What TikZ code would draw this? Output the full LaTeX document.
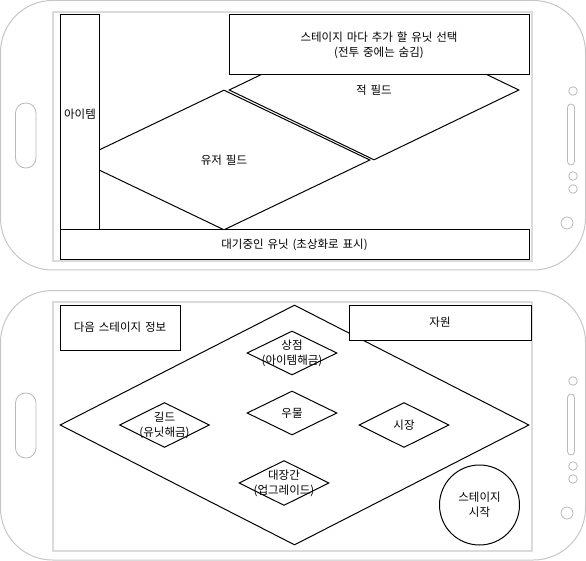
\documentclass[tikz,border=0pt]{standalone}
\usepackage{fontspec}
\newfontfamily\korean[WordSpace=1.5]{Noto Sans CJK KR}
\usetikzlibrary{shapes.geometric}

\begin{document}
\begin{tikzpicture}[x=1pt, y=-1pt,
                          every node/.style={font=\korean\fontsize{11.5}{15}\selectfont, align=center},
                          phone/.style={draw=gray!45, line width=1pt, rounded corners=52pt},
                          screen/.style={draw=gray!28, line width=2pt},
                          button/.style={draw=gray!55, line width=0.8pt},
                          boxnode/.style={rectangle, draw, fill=white, line width=1pt, inner sep=0pt},
                          fieldnode/.style={diamond, draw, line width=1pt, inner sep=0pt},
                          startnode/.style={circle, draw, line width=1pt, minimum size=80pt, inner sep=0pt},
                          textnode/.style={inner sep=0pt},
                      ]
                      \useasboundingbox (0,0) rectangle (586,561);

                      %Phones
                      \foreach \oy in {0,290} {
                          \draw[phone] (0.5,0.5+\oy) rectangle (585.5,270+\oy);
                          \draw[screen] (53,12+\oy) rectangle (532,261+\oy);
                          \draw[button, rounded corners=10pt] (15.5,103+\oy) rectangle (36,168+\oy);
                          \draw[button, rounded corners=3.5pt] (567.5,104+\oy) rectangle (574.5,165+\oy);
                          \draw[button] (573,91+\oy) circle[radius=4.3pt];
                          \draw[button] (573,176+\oy) circle[radius=4.3pt];
                          \draw[button] (573,189+\oy) circle[radius=4.3pt];
                          \draw[button] (567,223+\oy) circle[radius=6pt];
                      }

                      %Nodes (battle screen)
                      \node[fieldnode, minimum width=290pt, minimum height=140pt] (enemy) at (374,90)  {적 필드};
                      \node[fieldnode, minimum width=292pt, minimum height=140pt] (user)  at (224,160) {유저 필드};
                      \node[boxnode, minimum width=39pt, minimum height=215pt]   (item)  at (79.5,122.5) {};
                      \node[textnode]                                            (itemlabel) at (80,114) {아이템};
                      \node[boxnode, minimum width=300pt, minimum height=60pt]   (pick)  at (379,45)  {스테이지 마다 추가 할 유닛 선택\\(전투 중에는 숨김)};
                      \node[boxnode, minimum width=469pt, minimum height=30pt]   (wait)  at (294.5,245) {대기중인 유닛 (초상화로 표시)};

                      %Nodes (town screen)
                      \node[fieldnode, minimum width=469pt, minimum height=240pt] (town) at (294.5,425) {};
                      \node[boxnode, minimum width=120pt, minimum height=45pt]    (next) at (120,327.5) {다음 스테이지 정보};
                      \node[boxnode, minimum width=182pt, minimum height=35pt]    (res)  at (440,322.5) {자원};
                      \node[fieldnode, minimum width=90pt, minimum height=44pt]   (shop)   at (292,353)   {};
                      \node[fieldnode, minimum width=90pt, minimum height=44pt]   (well)   at (292,413)   {};
                      \node[fieldnode, minimum width=90pt, minimum height=45pt]   (guild)  at (164.5,425) {};
                      \node[fieldnode, minimum width=90pt, minimum height=45pt]   (market) at (404,425)   {};
                      \node[fieldnode, minimum width=90pt, minimum height=45pt]   (smithy) at (284,483)   {};
                      \node[textnode] (shoplabel)   at (shop.center)   {상점\\(아이템해금)};
                      \node[textnode] (welllabel)   at (well.center)   {우물};
                      \node[textnode] (guildlabel)  at (guild.center)  {길드\\(유닛해금)};
                      \node[textnode] (marketlabel) at (market.center) {시장};
                      \node[textnode] (smithylabel) at (smithy.center) {대장간\\(업그레이드)};
                      \node[startnode] (start) at (479.5,505) {스테이지\\시작};
                  \end{tikzpicture}
\end{document}
